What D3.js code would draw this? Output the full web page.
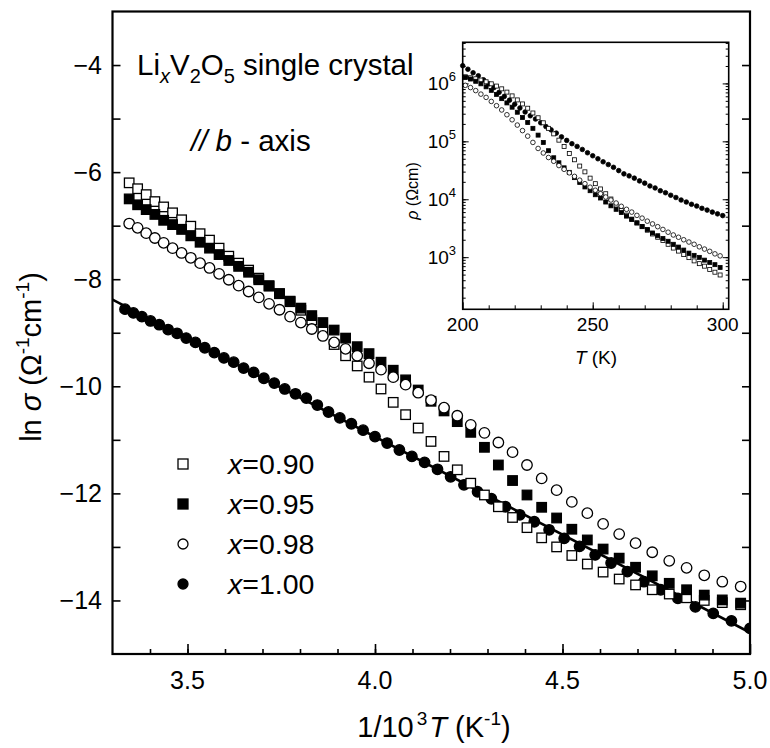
<!DOCTYPE html>
<html>
<head>
<meta charset="utf-8">
<script src="https://cdn.jsdelivr.net/npm/d3@7"></script>
<style>
  body { margin: 0; background: #fff; }
  svg { display: block; font-family: "Liberation Sans", Arial, sans-serif; }
</style>
</head>
<body>
<svg id="viz" width="770" height="748"></svg>
<script>
// Temperature grids (K), read as 2 K steps off the plot
var T_even = [300,298,296,294,292,290,288,286,284,282,280,278,276,274,272,270,268,266,264,262,
              260,258,256,254,252,250,248,246,244,242,240,238,236,234,232,230,228,226,224,222,
              220,218,216,214,212,210,208,206,204,202,200];
var T_odd = [299,297,295,293,291,289,287,285,283,281,279,277,275,273,271,269,267,265,263,261,
             259,257,255,253,251,249,247,245,243,241,239,237,235,233,231,229,227,225,223,221,
             219,217,215,213,211,209,207,205,203,201];

// ln sigma values per composition
var lnsig_090 = [-6.20,-6.31,-6.42,-6.55,-6.65,-6.76,-6.89,-7.01,-7.15,-7.27,
                 -7.42,-7.57,-7.70,-7.83,-7.98,-8.12,-8.27,-8.42,-8.58,-8.76,
                 -8.98,-9.22,-9.43,-9.62,-9.83,-10.05,-10.30,-10.53,-10.78,-11.03,
                 -11.31,-11.56,-11.81,-12.03,-12.25,-12.45,-12.64,-12.83,-13.00,-13.16,
                 -13.32,-13.47,-13.60,-13.71,-13.80,-13.88,-13.95,-14.00,-14.04,-14.08];
var lnsig_095 = [-6.50,-6.61,-6.70,-6.79,-6.90,-6.98,-7.07,-7.19,-7.31,-7.42,
                 -7.54,-7.65,-7.76,-7.87,-8.01,-8.13,-8.27,-8.41,-8.54,-8.68,
                 -8.81,-8.95,-9.10,-9.26,-9.39,-9.55,-9.70,-9.88,-10.07,-10.28,
                 -10.46,-10.66,-10.86,-11.14,-11.47,-11.76,-12.03,-12.26,-12.46,-12.67,
                 -12.87,-13.04,-13.21,-13.38,-13.54,-13.68,-13.80,-13.90,-13.99,-14.05];
var lnsig_098 = [-6.96,-7.04,-7.14,-7.23,-7.32,-7.42,-7.51,-7.60,-7.70,-7.79,
                 -7.90,-8.01,-8.12,-8.23,-8.34,-8.46,-8.57,-8.70,-8.81,-8.93,
                 -9.06,-9.18,-9.30,-9.43,-9.57,-9.69,-9.83,-9.97,-10.12,-10.26,
                 -10.40,-10.55,-10.72,-10.87,-11.05,-11.23,-11.47,-11.72,-11.94,-12.16,
                 -12.37,-12.57,-12.76,-12.93,-13.10,-13.26,-13.39,-13.53,-13.65,-13.74];
var lnsig_100 = [-8.56,-8.63,-8.70,-8.78,-8.85,-8.94,-9.01,-9.10,-9.18,-9.28,
                 -9.37,-9.47,-9.55,-9.66,-9.74,-9.85,-9.94,-10.05,-10.14,-10.22,
                 -10.35,-10.48,-10.59,-10.70,-10.82,-10.94,-11.06,-11.19,-11.31,-11.42,
                 -11.55,-11.69,-11.84,-11.97,-12.10,-12.25,-12.40,-12.53,-12.68,-12.84,
                 -12.99,-13.15,-13.30,-13.46,-13.65,-13.80,-13.96,-14.12,-14.24,-14.38,-14.52];

// straight fit through x = 1.00
var fit_x = [3.3, 5.0];
var fit_y = [-8.38, -14.6];

var legend_labels = ["0.90", "0.95", "0.98", "1.00"];
var x_ticks = [3.5, 4.0, 4.5, 5.0];
var y_ticks = [-4, -6, -8, -10, -12, -14];
var inset_x_ticks = [200, 250, 300];
var inset_y_exps = [3, 4, 5, 6];

var series = [
  { T: T_even, v: lnsig_100, shape: "circle", fill: "#000" },
  { T: T_odd,  v: lnsig_090, shape: "square", fill: "#fff" },
  { T: T_odd,  v: lnsig_095, shape: "square", fill: "#000" },
  { T: T_odd,  v: lnsig_098, shape: "circle", fill: "#fff" }
];
var legend_order = [1, 2, 3, 0];

var svg = d3.select("#viz");

// Main scales
var x = d3.scaleLinear().domain([3.3, 5.0]).range([112.5, 750]);
var y = d3.scaleLinear().domain([-15, -3]).range([654, 11.5]);

svg.append("defs").append("clipPath").attr("id", "clip")
  .append("rect").attr("x", x(3.3)).attr("y", y(-3))
  .attr("width", x(5.0) - x(3.3)).attr("height", y(-15) - y(-3));

// Ticks (inward)
var g = svg.append("g");
g.append("g").attr("transform", "translate(0," + y(-15) + ")")
  .call(d3.axisTop(x).tickValues(d3.range(3.4, 5.0, 0.1)).tickSize(5).tickFormat(""));
g.append("g").attr("transform", "translate(0," + y(-15) + ")")
  .call(d3.axisTop(x).tickValues(x_ticks).tickSize(10).tickFormat(""));
g.append("g").attr("transform", "translate(" + x(3.3) + ",0)")
  .call(d3.axisRight(y).tickValues(d3.range(-14, -3, 1)).tickSize(8).tickFormat(""));
g.append("g").attr("transform", "translate(" + x(5.0) + ",0)")
  .call(d3.axisLeft(y).tickValues(d3.range(-14, -3, 1)).tickSize(8).tickFormat(""));
g.selectAll(".domain").remove();
g.selectAll("line").attr("stroke", "#000").attr("stroke-width", 1.6);

// Tick labels
svg.selectAll(".xl").data(x_ticks).enter().append("text")
  .attr("x", d => x(d)).attr("y", 689).attr("text-anchor", "middle")
  .attr("font-size", 25).text(d => d.toFixed(1));
svg.selectAll(".yl").data(y_ticks).enter().append("text")
  .attr("x", 102).attr("y", d => y(d) + 9).attr("text-anchor", "end")
  .attr("font-size", 25).text(d => "\u2212" + Math.abs(d));

// Fit line
var plot = svg.append("g").attr("clip-path", "url(#clip)");
plot.append("line")
  .attr("x1", x(fit_x[0])).attr("y1", y(fit_y[0]))
  .attr("x2", x(fit_x[1])).attr("y2", y(fit_y[1]))
  .attr("stroke", "#000").attr("stroke-width", 2.6);

function drawMarks(sel, pts, shape, fill, size, sw) {
  if (shape === "circle") {
    sel.selectAll(null).data(pts).enter().append("circle")
      .attr("cx", d => d[0]).attr("cy", d => d[1]).attr("r", size / 2)
      .attr("fill", fill).attr("stroke", "#000").attr("stroke-width", sw);
  } else {
    sel.selectAll(null).data(pts).enter().append("rect")
      .attr("x", d => d[0] - size / 2).attr("y", d => d[1] - size / 2)
      .attr("width", size).attr("height", size)
      .attr("fill", fill).attr("stroke", "#000").attr("stroke-width", sw);
  }
}

series.forEach(function(s) {
  var pts = s.T.map((t, i) => [x(1000 / t), y(s.v[i])]);
  drawMarks(plot, pts, s.shape, s.fill, s.shape === "circle" ? 10.5 : 9.5, 1.3);
});

// Frame
svg.append("rect").attr("x", x(3.3)).attr("y", y(-3))
  .attr("width", x(5.0) - x(3.3)).attr("height", y(-15) - y(-3))
  .attr("fill", "none").attr("stroke", "#000").attr("stroke-width", 2.2);

// Axis titles
var xt = svg.append("text").attr("x", 434).attr("y", 737).attr("text-anchor", "middle")
  .attr("font-size", 29);
xt.append("tspan").text("1/10");
xt.append("tspan").attr("font-size", 19).attr("dx", 3).attr("dy", -12).text("3");
xt.append("tspan").attr("dx", 2).attr("dy", 12).attr("font-style", "italic").text("T");
xt.append("tspan").text(" (K");
xt.append("tspan").attr("font-size", 19).attr("dy", -12).text("-1");
xt.append("tspan").attr("dy", 12).text(")");

var yt = svg.append("text").attr("transform", "translate(41,357) rotate(-90)")
  .attr("text-anchor", "middle").attr("font-size", 29);
yt.append("tspan").text("ln ");
yt.append("tspan").attr("font-style", "italic").text("\u03c3");
yt.append("tspan").text(" (\u03a9");
yt.append("tspan").attr("font-size", 19).attr("dy", -12).text("-1");
yt.append("tspan").attr("dy", 12).text("cm");
yt.append("tspan").attr("font-size", 19).attr("dy", -12).text("-1");
yt.append("tspan").attr("dy", 12).text(")");

// Title & annotation
var tt = svg.append("text").attr("x", 137).attr("y", 75).attr("font-size", 29.5);
tt.append("tspan").text("Li");
tt.append("tspan").attr("font-size", 20).attr("font-style", "italic").attr("dy", 8).text("x");
tt.append("tspan").attr("dy", -8).text("V");
tt.append("tspan").attr("font-size", 20).attr("dy", 8).text("2");
tt.append("tspan").attr("dy", -8).text("O");
tt.append("tspan").attr("font-size", 20).attr("dy", 8).text("5");
tt.append("tspan").attr("dy", -8).text(" single crystal");

var at = svg.append("text").attr("x", 191).attr("y", 151).attr("font-size", 29.5);
at.append("tspan").attr("font-style", "italic").text("// b");
at.append("tspan").text(" - axis");

// Legend
legend_order.forEach(function(si, k) {
  var s = series[si], ly = 464 + k * 40;
  drawMarks(svg.append("g"), [[183, ly]], s.shape, s.fill, 10, 1.3);
  var lt = svg.append("text").attr("x", 228).attr("y", ly + 10).attr("font-size", 28.5);
  lt.append("tspan").attr("font-style", "italic").text("x");
  lt.append("tspan").text("=" + legend_labels[k]);
});

// Inset
var ix = d3.scaleLinear().domain([200, 302.3]).range([462.7, 728.7]);
var iy = d3.scaleLog().domain([Math.pow(10, 2.1), Math.pow(10, 6.71)]).range([309.3, 42.3]);

var ig = svg.append("g");
ig.append("rect").attr("x", ix.range()[0]).attr("y", iy.range()[1])
  .attr("width", ix.range()[1] - ix.range()[0]).attr("height", iy.range()[0] - iy.range()[1])
  .attr("fill", "#fff");

var minorY = [];
d3.range(2, 7).forEach(function(e) {
  for (var m = 1; m < 10; m++) {
    var v = m * Math.pow(10, e);
    if (v >= iy.domain()[0] && v <= iy.domain()[1]) minorY.push(v);
  }
});
var ia = ig.append("g");
ia.append("g").attr("transform", "translate(" + ix.range()[0] + ",0)")
  .call(d3.axisRight(iy).tickValues(minorY).tickSize(3).tickFormat(""));
ia.append("g").attr("transform", "translate(" + ix.range()[1] + ",0)")
  .call(d3.axisLeft(iy).tickValues(minorY).tickSize(3).tickFormat(""));
ia.append("g").attr("transform", "translate(" + ix.range()[0] + ",0)")
  .call(d3.axisRight(iy).tickValues(inset_y_exps.map(e => Math.pow(10, e))).tickSize(6).tickFormat(""));
ia.append("g").attr("transform", "translate(" + ix.range()[1] + ",0)")
  .call(d3.axisLeft(iy).tickValues(inset_y_exps.map(e => Math.pow(10, e))).tickSize(6).tickFormat(""));
ia.append("g").attr("transform", "translate(0," + iy.range()[0] + ")")
  .call(d3.axisTop(ix).tickValues(d3.range(210, 301, 10)).tickSize(4).tickFormat(""));
ia.append("g").attr("transform", "translate(0," + iy.range()[0] + ")")
  .call(d3.axisTop(ix).tickValues(inset_x_ticks).tickSize(7).tickFormat(""));
ia.selectAll(".domain").remove();
ia.selectAll("line").attr("stroke", "#000").attr("stroke-width", 1);

series.forEach(function(s) {
  var pts = s.T.map((t, i) => [ix(t), iy(Math.exp(-s.v[i]))]);
  drawMarks(ig, pts, s.shape, s.fill, s.shape === "circle" ? 4.6 : 4, 0.8);
});

ig.append("rect").attr("x", ix.range()[0]).attr("y", iy.range()[1])
  .attr("width", ix.range()[1] - ix.range()[0]).attr("height", iy.range()[0] - iy.range()[1])
  .attr("fill", "none").attr("stroke", "#000").attr("stroke-width", 1.6);

ig.selectAll(".ixl").data(inset_x_ticks).enter().append("text")
  .attr("x", d => ix(d)).attr("y", 331).attr("text-anchor", "middle")
  .attr("font-size", 19).text(d => d);
inset_y_exps.forEach(function(e) {
  var t = ig.append("text").attr("x", 456).attr("y", iy(Math.pow(10, e)) + 7)
    .attr("text-anchor", "end").attr("font-size", 19);
  t.append("tspan").text("10");
  t.append("tspan").attr("font-size", 13).attr("dy", -9).text(e);
});
var itx = ig.append("text").attr("x", 596).attr("y", 364).attr("text-anchor", "middle")
  .attr("font-size", 19);
itx.append("tspan").attr("font-style", "italic").text("T");
itx.append("tspan").text(" (K)");
var ity = ig.append("text").attr("transform", "translate(418,191) rotate(-90)")
  .attr("text-anchor", "middle").attr("font-size", 16);
ity.append("tspan").attr("font-style", "italic").text("\u03c1");
ity.append("tspan").text(" (\u03a9cm)");
</script>
</body>
</html>
